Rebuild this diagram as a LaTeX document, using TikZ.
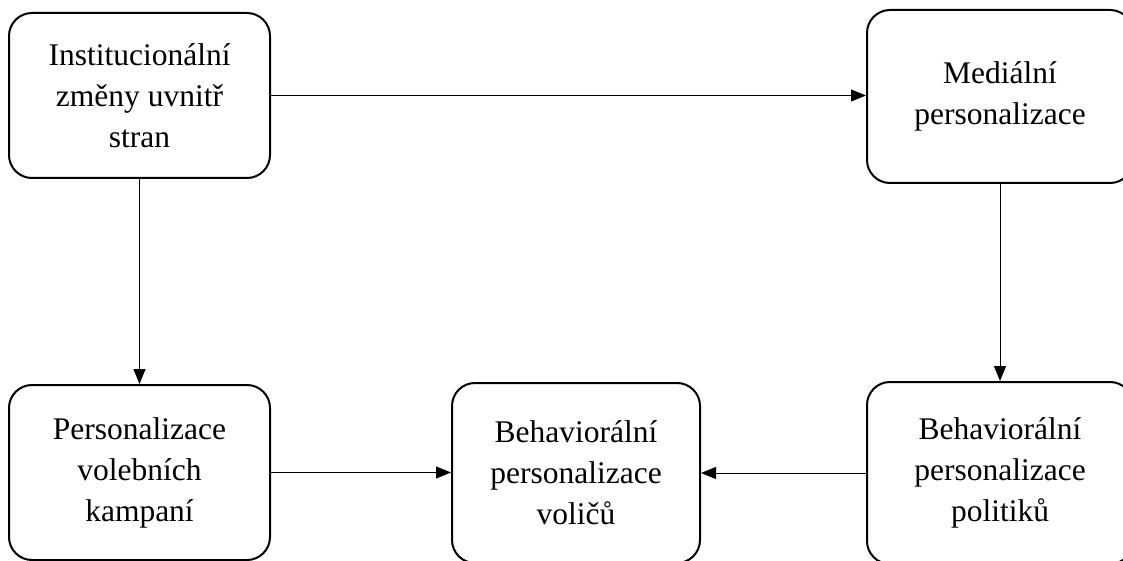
\documentclass[tikz,border=0pt]{standalone}
\usepackage{fontspec}
\setmainfont{Liberation Serif}
\usetikzlibrary{arrows.meta}
\begin{document}
\begin{tikzpicture}[x=1pt,y=-1pt,
  box/.style={draw, line width=2pt, rounded corners=23pt, align=center,
    font=\fontsize{31.5}{41}\selectfont, inner sep=0pt},
  conn/.style={line width=1pt, -{Triangle[length=15pt,width=12pt]}}]
\useasboundingbox (0,0) rectangle (1123,561);
\node[box, minimum width=261pt, minimum height=165pt] (A) at (139.5,95.5)
  {Institucionální\\změny uvnitř\\stran};
\node[box, minimum width=266pt, minimum height=173pt] (B) at (1000,96.5)
  {Mediální\\personalizace};
\node[box, minimum width=261pt, minimum height=175pt] (C) at (139.5,472.5)
  {Personalizace\\volebních\\kampaní};
\node[box, minimum width=248pt, minimum height=180pt] (D) at (576,473)
  {Behaviorální\\personalizace\\voličů};
\node[box, minimum width=266pt, minimum height=182pt] (E) at (1000,473)
  {Behaviorální\\personalizace\\politiků};
\draw[conn] (A.east) -- (A.east -| B.west);
\draw[conn] (A.south) -- (C.north);
\draw[conn] (B.south) -- (E.north);
\draw[conn] (C.east) -- (C.east -| D.west);
\draw[conn] (E.west) -- (E.west -| D.east);
\end{tikzpicture}
\end{document}
